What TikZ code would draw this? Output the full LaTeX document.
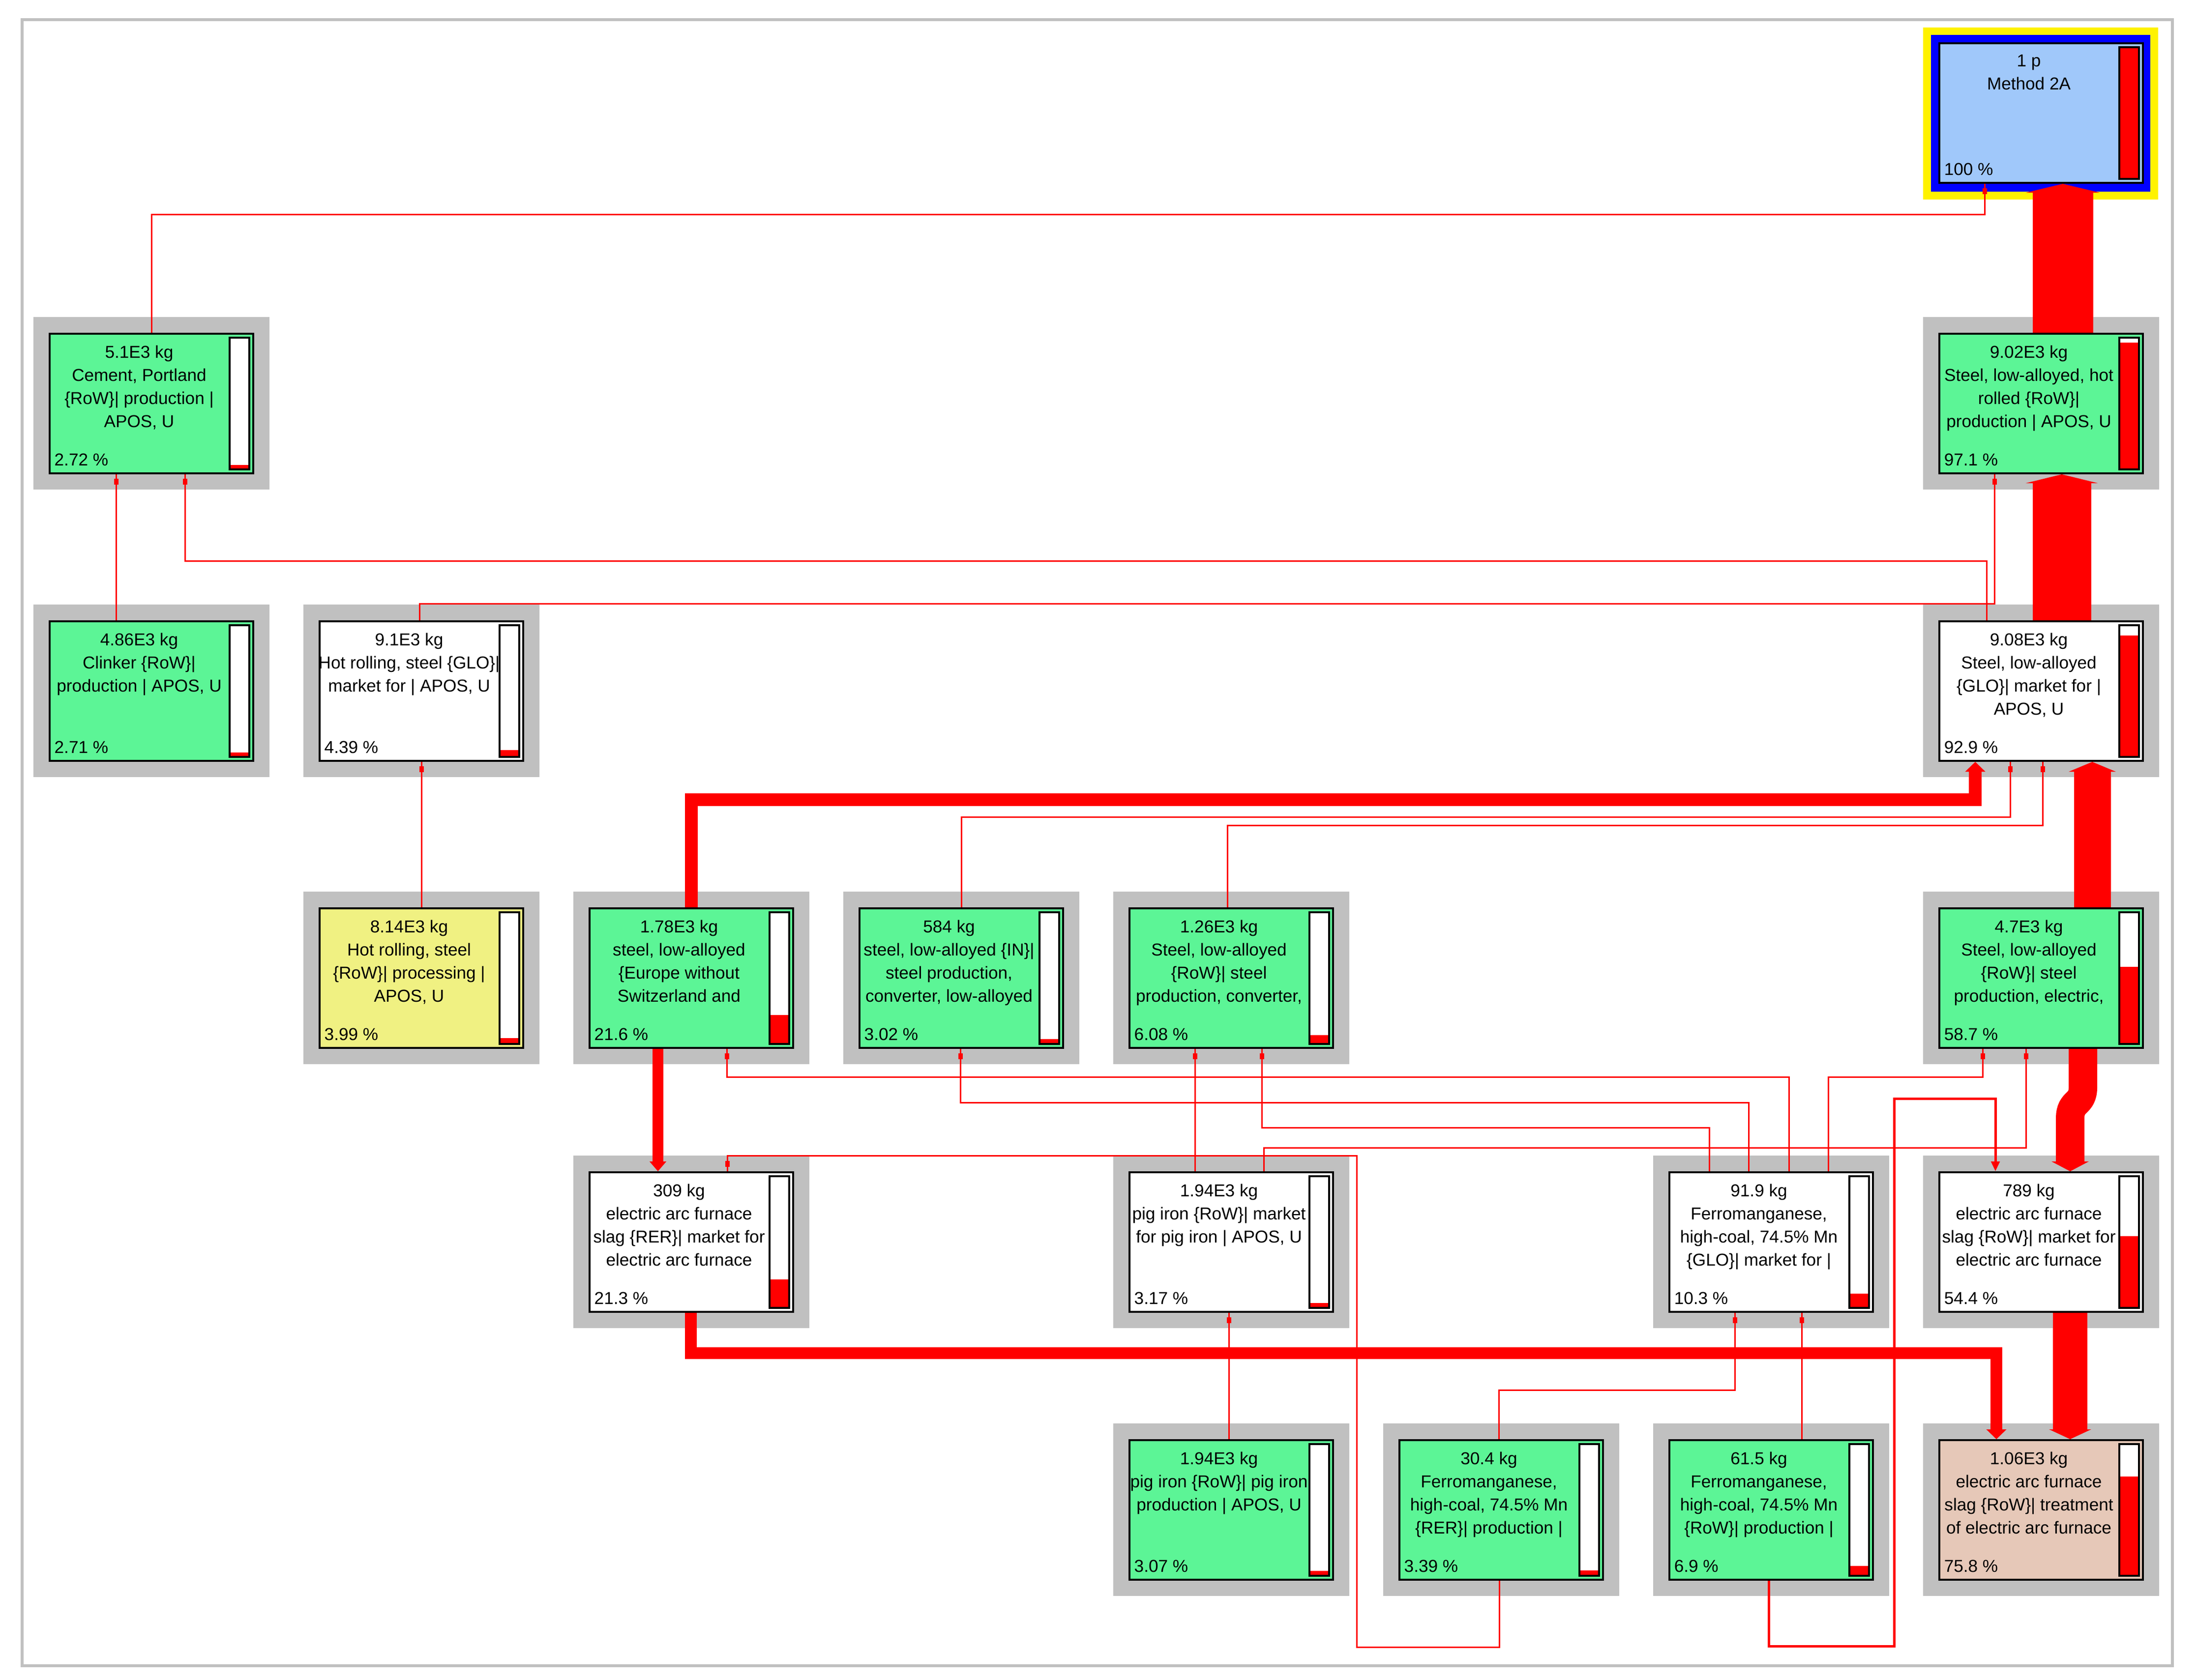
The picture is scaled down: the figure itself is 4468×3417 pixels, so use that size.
\documentclass[tikz,border=0pt]{standalone}
\usepackage{fontspec}
\setmainfont{Liberation Sans}
\usepackage{tikz}
\usetikzlibrary{positioning,calc,arrows.meta,decorations.markings}

\definecolor{boxgray}{RGB}{192,192,192}
\definecolor{procgreen}{RGB}{92,245,150}
\definecolor{procyellow}{RGB}{240,241,130}
\definecolor{procpeach}{RGB}{230,200,184}
\definecolor{procblue}{RGB}{160,200,250}

\newcommand{\procbox}[7]{%
  \node[proc, fill=#4] (#1) at (#2,#3) {};
  \filldraw[fill=white, line width=0.35mm] (#2+159,#3-134) rectangle (#2+199,#3+134);
  \fill[red] (#2+161,#3+132) rectangle (#2+197,{#3+132-264*#5});
  \node[proctext] (#1-t) at (#2-25,#3-119) {#6};
  \node[procpct] (#1-p) at (#2-198,#3+126) {#7};
}

\begin{document}
\begin{tikzpicture}[x=0.1mm, y=-0.1mm,
    proc/.style={draw, line width=0.4mm, minimum width=41.4mm, minimum height=28.4mm, inner sep=0pt},
    proctext/.style={anchor=north, align=center, inner sep=0pt, font=\fontsize{10}{13.4}\selectfont},
    procpct/.style={anchor=base west, inner sep=0pt, font=\fontsize{10}{12}\selectfont},
    link/.style={red, line width=0.3mm, postaction={decorate},
        decoration={markings, mark=at position -1.5mm with {\fill[red] (-0.6mm,-0.45mm) rectangle (0.6mm,0.45mm);}}},
    flow/.style={red, line width=#1}]
    \useasboundingbox (0,0) rectangle (4468,3417);
    \fill[white] (0,0) rectangle (4468,3417);
    \draw[boxgray, line width=0.6mm] (45,40) rectangle (4418,3389);

    \foreach \cx/\cy in {308/821, 308/1406, 857/1406, 857/1990, 1406/1990, 1955/1990, 2504/1990,
        4151/821, 4151/1406, 4151/1990, 1406/2527, 2504/2527, 3602/2527, 4151/2527,
        2504/3072, 3053/3072, 3602/3072, 4151/3072}
        \fill[boxgray] (\cx-240,\cy-176) rectangle (\cx+240,\cy+175);
    \fill[yellow] (3911,56) rectangle (4389,406);
    \fill[blue] (3927,71) rectangle (4373,390);

    \procbox{method}{4151}{230}{procblue}{1}{1 p\\Method 2A}{100 \%}
    \procbox{steelHot}{4151}{821}{procgreen}{0.971}{9.02E3 kg\\Steel, low-alloyed, hot\\rolled \{RoW\}|\\production | APOS, U}{97.1 \%}
    \procbox{cement}{308}{821}{procgreen}{0.0272}{5.1E3 kg\\Cement, Portland\\\{RoW\}| production |\\APOS, U}{2.72 \%}
    \procbox{clinker}{308}{1406}{procgreen}{0.0271}{4.86E3 kg\\Clinker \{RoW\}|\\production | APOS, U}{2.71 \%}
    \procbox{hotGLO}{857}{1406}{white}{0.0439}{9.1E3 kg\\Hot rolling, steel \{GLO\}|\\market for | APOS, U}{4.39 \%}
    \procbox{steelGLO}{4151}{1406}{white}{0.929}{9.08E3 kg\\Steel, low-alloyed\\\{GLO\}| market for |\\APOS, U}{92.9 \%}
    \procbox{hotRoW}{857}{1990}{procyellow}{0.0399}{8.14E3 kg\\Hot rolling, steel\\\{RoW\}| processing |\\APOS, U}{3.99 \%}
    \procbox{steelEU}{1406}{1990}{procgreen}{0.216}{1.78E3 kg\\steel, low-alloyed\\\{Europe without\\Switzerland and}{21.6 \%}
    \procbox{steelIN}{1955}{1990}{procgreen}{0.0302}{584 kg\\steel, low-alloyed \{IN\}|\\steel production,\\converter, low-alloyed}{3.02 \%}
    \procbox{steelConv}{2504}{1990}{procgreen}{0.0608}{1.26E3 kg\\Steel, low-alloyed\\\{RoW\}| steel\\production, converter,}{6.08 \%}
    \procbox{steelElec}{4151}{1990}{procgreen}{0.587}{4.7E3 kg\\Steel, low-alloyed\\\{RoW\}| steel\\production, electric,}{58.7 \%}
    \procbox{slagRER}{1406}{2527}{white}{0.213}{309 kg\\electric arc furnace\\slag \{RER\}| market for\\electric arc furnace}{21.3 \%}
    \procbox{pigMkt}{2504}{2527}{white}{0.0317}{1.94E3 kg\\pig iron \{RoW\}| market\\for pig iron | APOS, U}{3.17 \%}
    \procbox{femnGLO}{3602}{2527}{white}{0.103}{91.9 kg\\Ferromanganese,\\high-coal, 74.5\% Mn\\\{GLO\}| market for |}{10.3 \%}
    \procbox{slagRoW}{4151}{2527}{white}{0.544}{789 kg\\electric arc furnace\\slag \{RoW\}| market for\\electric arc furnace}{54.4 \%}
    \procbox{pigProd}{2504}{3072}{procgreen}{0.0307}{1.94E3 kg\\pig iron \{RoW\}| pig iron\\production | APOS, U}{3.07 \%}
    \procbox{femnRER}{3053}{3072}{procgreen}{0.0339}{30.4 kg\\Ferromanganese,\\high-coal, 74.5\% Mn\\\{RER\}| production |}{3.39 \%}
    \procbox{femnRoW}{3602}{3072}{procgreen}{0.069}{61.5 kg\\Ferromanganese,\\high-coal, 74.5\% Mn\\\{RoW\}| production |}{6.9 \%}
    \procbox{slagTreat}{4151}{3072}{procpeach}{0.758}{1.06E3 kg\\electric arc furnace\\slag \{RoW\}| treatment\\of electric arc furnace}{75.8 \%}

    \draw[link] (cement.north) -- (cement.north |- 0,436) -| ($(method.south)+(-115,0)$);
    \draw[link] ($(clinker.north)+(-72,0)$) -- ($(cement.south)+(-72,0)$);
    \draw[link] ($(steelGLO.north)+(-111,0)$) -- ++(0,-121) -| ($(cement.south)+(68,0)$);
    \draw[link] ($(hotGLO.north)+(-4,0)$) -- ++(0,-34) -| ($(steelHot.south)+(-95,0)$);
    \draw[link] (hotRoW.north) -- (hotGLO.south);
    \draw[link] (steelIN.north) -- ++(0,-184) -| ($(steelGLO.south)+(-63,0)$);
    \draw[link] ($(steelConv.north)+(-8,0)$) -- ++(0,-167) -| ($(steelGLO.south)+(3,0)$);
    \draw[link] ($(femnGLO.north)+(36,0)$) -- ++(0,-192) -| ($(steelEU.south)+(72,0)$);
    \draw[link] ($(femnGLO.north)+(-46,0)$) -- ++(0,-140) -| ($(steelIN.south)+(-2,0)$);
    \draw[link] ($(femnGLO.north)+(-126,0)$) -- ++(0,-89) -| ($(steelConv.south)+(62,0)$);
    \draw[link] ($(femnGLO.north)+(116,0)$) -- ++(0,-192) -| ($(steelElec.south)+(-119,0)$);
    \draw[link] ($(pigMkt.north)+(-74,0)$) -- ($(steelConv.south)+(-74,0)$);
    \draw[link] ($(pigMkt.north)+(66,0)$) -- ++(0,-48) -| ($(steelElec.south)+(-31,0)$);
    \draw[link] ($(pigProd.north)+(-5,0)$) -- ($(pigMkt.south)+(-5,0)$);
    \draw[link] ($(femnRER.north)+(-5,0)$) -- ++(0,-100) -| ($(femnGLO.south)+(-74,0)$);
    \draw[link] ($(femnRoW.north)+(62,0)$) -- ($(femnGLO.south)+(62,0)$);
    \draw[link] ($(femnRER.south)+(-4,0)$) -- ++(0,135) -| ++(-290,-1000) -| ($(slagRER.north)+(73,0)$);
    \draw[flow=0.5mm, -{Triangle[length=2mm,width=1.7mm]}] ($(femnRoW.south)+(-5,0)$) -- ++(0,133) -| ++(255,-1114) -| ($(slagRoW.north)+(-93,0)$);

    \draw[flow=12.3mm, -{Triangle[length=1.8mm,width=15mm]}] ($(steelHot.north)+(44,0)$) -- ($(method.south)+(44,0)$);
    \draw[flow=11.9mm, -{Triangle[length=1.8mm,width=14.6mm]}] ($(steelGLO.north)+(42,0)$) -- ($(steelHot.south)+(42,0)$);
    \draw[flow=7.5mm, -{Triangle[length=2mm,width=9.5mm]}] ($(steelElec.north)+(104,0)$) -- ($(steelGLO.south)+(104,0)$);
    \draw[flow=2.6mm, -{Triangle[length=2mm,width=4mm]}] (steelEU.north) -- ++(0,-219) -| ($(steelGLO.south)+(-134,0)$);
    \draw[flow=5.8mm, -{Triangle[length=2mm,width=7.5mm]}] ($(steelElec.south)+(85,0)$) -- ($(steelElec.south)+(85,78)$)
        .. controls ($(steelElec.south)+(85,115)$) and ($(slagRoW.north)+(59,-145)$) .. ($(slagRoW.north)+(59,-108)$)
        -- ($(slagRoW.north)+(59,0)$);
    \draw[flow=7mm, -{Triangle[length=2mm,width=8.5mm]}] ($(slagRoW.south)+(59,0)$) -- ($(slagTreat.north)+(59,0)$);
    \draw[flow=2.2mm, -{Triangle[length=2mm,width=3.3mm]}] ($(steelEU.south)+(-68,0)$) -- ($(slagRER.north)+(-68,0)$);
    \draw[flow=2.4mm, -{Triangle[length=2mm,width=4mm]}] ($(slagRER.south)+(-1,0)$) -- ++(0,82) -| ($(slagTreat.north)+(-91,0)$);
\end{tikzpicture}
\end{document}
